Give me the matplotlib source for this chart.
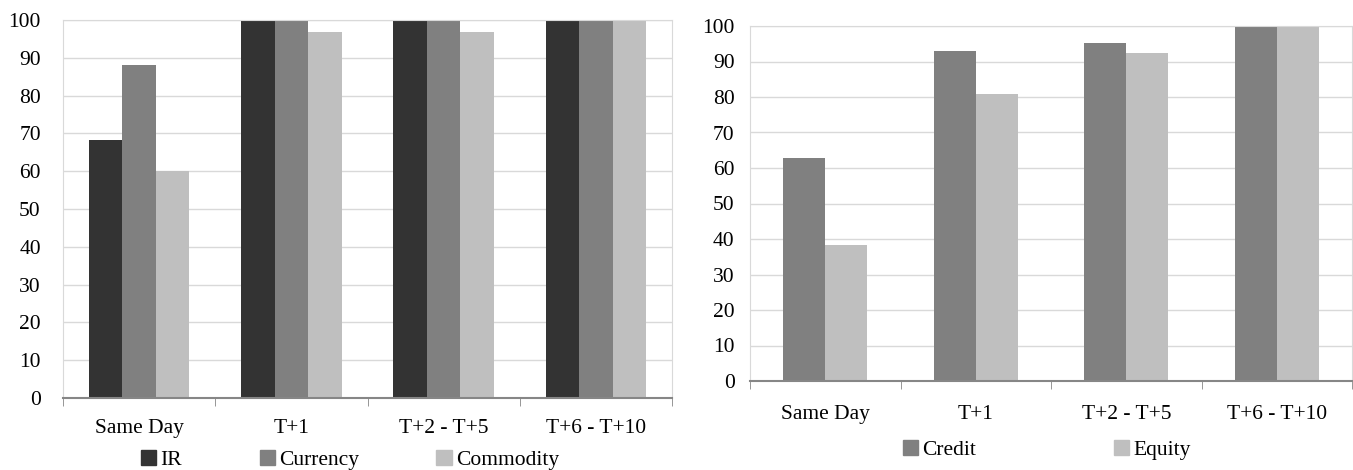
import numpy as np
import matplotlib.pyplot as plt
from matplotlib.patches import Patch

plt.rcParams['font.family'] = ['Liberation Serif', 'DejaVu Serif']

categories = ['Same Day', 'T+1', 'T+2 - T+5', 'T+6 - T+10']

# left panel
ir = [68.2, 100, 100, 100]
currency = [88.0, 100, 100, 100]
commodity = [60.0, 96.7, 96.7, 100]

# right panel
credit = [62.8, 93.0, 95.3, 100]
equity = [38.4, 80.8, 92.3, 100]

c_dark, c_mid, c_light = '#333333', '#808080', '#bfbfbf'
FS = 15.5

fig = plt.figure(figsize=(13.53, 4.70), dpi=100)
ax1 = fig.add_axes([63 / 1353, 72 / 470, 609 / 1353, 378 / 470])
ax2 = fig.add_axes([750 / 1353, 89 / 470, 602 / 1353, 355 / 470])


def style(ax, pad_y, pad_x):
    ax.set_xlim(-0.5, 3.5)
    ax.set_ylim(0, 100)
    ax.set_yticks(np.arange(0, 101, 10))
    ax.yaxis.grid(True, color='#d9d9d9', linewidth=1)
    ax.set_axisbelow(True)
    ax.set_xticks(range(len(categories)))
    ax.set_xticklabels(categories)
    ax.set_xticks(np.arange(-0.5, 3.6, 1), minor=True)
    ax.tick_params(axis='x', which='major', length=0, pad=pad_x, labelsize=FS)
    ax.tick_params(axis='x', which='minor', length=6, color='#868686', direction='out')
    ax.tick_params(axis='y', length=0, pad=pad_y, labelsize=FS)
    for s in ['top', 'right', 'left']:
        ax.spines[s].set_color('#d9d9d9')
    ax.spines['bottom'].set_color('#868686')
    ax.spines['bottom'].set_linewidth(1.5)


x = np.arange(len(categories))

w = 0.22
ax1.bar(x - w, ir, w, color=c_dark, zorder=2)
ax1.bar(x, currency, w, color=c_mid, zorder=2)
ax1.bar(x + w, commodity, w, color=c_light, zorder=2)
style(ax1, 16, 15)

w2 = 0.28
ax2.bar(x - w2 / 2, credit, w2, color=c_mid, zorder=2)
ax2.bar(x + w2 / 2, equity, w2, color=c_light, zorder=2)
style(ax2, 11, 17)

leg_kw = dict(frameon=False, fontsize=FS, handlelength=0.7, handleheight=0.7,
              handletextpad=0.2, borderpad=0, borderaxespad=0)
fig.legend([Patch(color=c_dark), Patch(color=c_mid), Patch(color=c_light)],
           ['IR', 'Currency', 'Commodity'], ncol=3, columnspacing=3.6,
           loc='center', bbox_to_anchor=(350 / 1353, 10 / 470), **leg_kw)
fig.legend([Patch(color=c_mid), Patch(color=c_light)],
           ['Credit', 'Equity'], ncol=2, columnspacing=6.4,
           loc='center', bbox_to_anchor=(1047 / 1353, 20 / 470), **leg_kw)

fig.savefig('out.png', dpi=100)
